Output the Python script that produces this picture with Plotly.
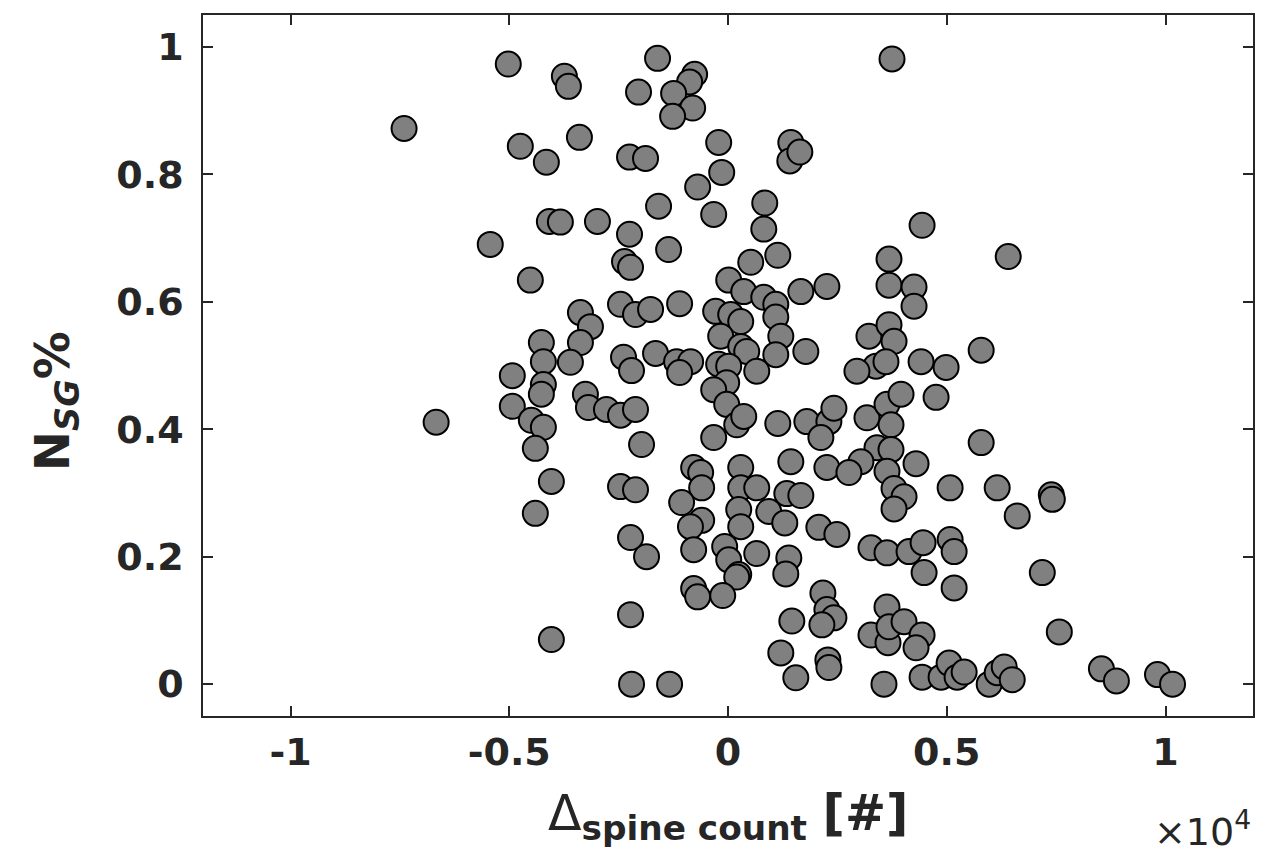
import plotly.graph_objects as go

# Δ spine count [#] (raw counts) and N_SG % (fraction)
delta_spine_count = [
    -7404, -6671, -5022, -3740, -3648, -4747, -4152, -4083, -3831, -5434,
    -4518, -4266, -4220, -4930, -4220, -4266, -4930, -4495, -4220, -4404,
    -4037, -4404, -4037, -3396, -2984, -2251, -2366, -2228, -1358, -2045,
    -1610, -763, -877, -1243, -808, -1266, -2251, -1885, -213, -144,
    -694, -1587, -327, 1436, 1413, 1642, 840, 818, 3749, 4436,
    6405, 520, 1138, 3680, 3680, 4252, 4252, 16, 360, 818,
    1092, 1092, 1665, 2260, -2457, -2114, -1770, -1106, -3373, -3144,
    -3373, -3602, -282, 62, 291, -167, 291, 428, 1207, 1092,
    1779, 657, -213, 16, -30, -327, -2388, -2205, -1656, -1175,
    -854, -1106, 3222, 3680, 3795, 3382, 3611, 2947, -3259, -3190,
    -2778, -2457, -2114, -1976, -30, 199, 360, -327, 1138, 1802,
    2306, 2421, 2123, 3176, 3634, 3726, 3955, 3405, 3726, 3039,
    3634, 3795, 4024, 3795, -785, -625, -602, -1060, 291, 291,
    245, 291, 657, 1436, 2260, 2764, -2457, -2114, 1344, 1665,
    932, 1298, -602, -858, -785, 2077, 2489, -2228, -1862, -76,
    16, 245, 199, 657, 1390, 1321, -785, -694, -121, -2228,
    -2205, -1335, 2169, 2260, 2421, 2146, 1459, 1207, 1550, 2283,
    2306, 3565, 3268, 3634, 4138, 4459, 5077, 5169, 4482, 5169,
    7184, 6611, 7390, 7413, 6153, 5077, 4298, 5787, 4756, 5787,
    4413, 4985, 3634, 3268, 3657, 3680, 4024, 4436, 4298, 7573,
    4436, 4871, 5054, 5237, 5398, 5970, 6153, 6314, 6497, 8535,
    8878, 9817, 10161,
]
n_sg_fraction = [
    0.872, 0.411, 0.973, 0.954, 0.938, 0.844, 0.819, 0.726, 0.725, 0.690,
    0.634, 0.536, 0.506, 0.484, 0.470, 0.455, 0.436, 0.414, 0.403, 0.370,
    0.318, 0.268, 0.070, 0.858, 0.726, 0.706, 0.663, 0.654, 0.682, 0.929,
    0.982, 0.957, 0.945, 0.927, 0.904, 0.891, 0.827, 0.825, 0.850, 0.803,
    0.780, 0.750, 0.737, 0.850, 0.821, 0.835, 0.755, 0.714, 0.981, 0.720,
    0.671, 0.662, 0.673, 0.667, 0.626, 0.623, 0.593, 0.634, 0.616, 0.607,
    0.596, 0.576, 0.616, 0.624, 0.596, 0.580, 0.588, 0.597, 0.583, 0.561,
    0.536, 0.505, 0.585, 0.580, 0.569, 0.546, 0.530, 0.522, 0.546, 0.517,
    0.522, 0.491, 0.502, 0.499, 0.473, 0.462, 0.513, 0.492, 0.519, 0.506,
    0.506, 0.489, 0.546, 0.564, 0.538, 0.499, 0.506, 0.491, 0.455, 0.434,
    0.431, 0.422, 0.431, 0.376, 0.439, 0.407, 0.420, 0.387, 0.409, 0.412,
    0.412, 0.433, 0.387, 0.418, 0.439, 0.407, 0.455, 0.371, 0.368, 0.349,
    0.334, 0.307, 0.294, 0.275, 0.340, 0.332, 0.308, 0.285, 0.340, 0.308,
    0.274, 0.247, 0.308, 0.349, 0.340, 0.332, 0.310, 0.305, 0.299, 0.296,
    0.271, 0.253, 0.257, 0.247, 0.211, 0.246, 0.235, 0.230, 0.200, 0.216,
    0.195, 0.172, 0.168, 0.205, 0.198, 0.173, 0.150, 0.137, 0.139, 0.109,
    0.000, 0.000, 0.143, 0.117, 0.104, 0.093, 0.099, 0.049, 0.010, 0.038,
    0.026, 0.000, 0.214, 0.206, 0.208, 0.222, 0.227, 0.208, 0.175, 0.151,
    0.175, 0.264, 0.297, 0.290, 0.308, 0.308, 0.346, 0.379, 0.450, 0.524,
    0.506, 0.497, 0.121, 0.077, 0.065, 0.090, 0.098, 0.077, 0.057, 0.082,
    0.011, 0.011, 0.033, 0.011, 0.019, 0.000, 0.018, 0.027, 0.007, 0.024,
    0.005, 0.015, 0.000,
]

x_tick_vals = [-10000, -5000, 0, 5000, 10000]
x_tick_text = ["-1", "-0.5", "0", "0.5", "1"]
y_tick_vals = [0, 0.2, 0.4, 0.6, 0.8, 1]
y_tick_text = ["0", "0.2", "0.4", "0.6", "0.8", "1"]

TXT = "#262626"
FONT = "DejaVu Sans"

fig = go.Figure()
fig.add_trace(go.Scatter(
    x=delta_spine_count,
    y=n_sg_fraction,
    mode="markers",
    marker=dict(size=25, color="#808080", line=dict(color="black", width=2)),
    showlegend=False,
    hoverinfo="skip",
))

axis_common = dict(
    showgrid=False, zeroline=False, showline=True, linecolor=TXT, linewidth=1.5,
    mirror="ticks", ticks="inside", ticklen=10, tickwidth=1.5, tickcolor=TXT,
    tickfont=dict(family=FONT, size=38, color=TXT, weight="bold"),
    automargin=False,
)

fig.update_layout(
    width=1258, height=853,
    margin=dict(l=195, r=13, t=7, b=145),
    plot_bgcolor="white", paper_bgcolor="white",
    xaxis=dict(
        range=[-12000, 12000], tickvals=x_tick_vals, ticktext=x_tick_text,
        ticklabelstandoff=2,
        **axis_common,
    ),
    yaxis=dict(
        range=[-0.05, 1.05], tickvals=y_tick_vals, ticktext=y_tick_text,
        ticklabelstandoff=10,
        **axis_common,
    ),
    annotations=[
        dict(
            text="Δ<sub><b>spine count</b></sub> <b>[#]</b>",
            xref="paper", yref="paper", x=0.5, y=-0.095,
            xanchor="center", yanchor="top", showarrow=False,
            font=dict(family=FONT, size=49, color=TXT),
        ),
        dict(
            text="<b>N<sub><i>SG</i></sub>%</b>", textangle=-90,
            xref="paper", yref="paper", x=-0.141, y=0.449,
            xanchor="center", yanchor="middle", showarrow=False,
            font=dict(family=FONT, size=48, color=TXT),
        ),
        dict(
            text="×10<sup>4</sup>", xref="paper", yref="paper", x=1.0, y=-0.2,
            xanchor="right", yanchor="bottom", showarrow=False,
            font=dict(family=FONT, size=38, color=TXT),
        ),
    ],
)

fig.write_html("out.html")
